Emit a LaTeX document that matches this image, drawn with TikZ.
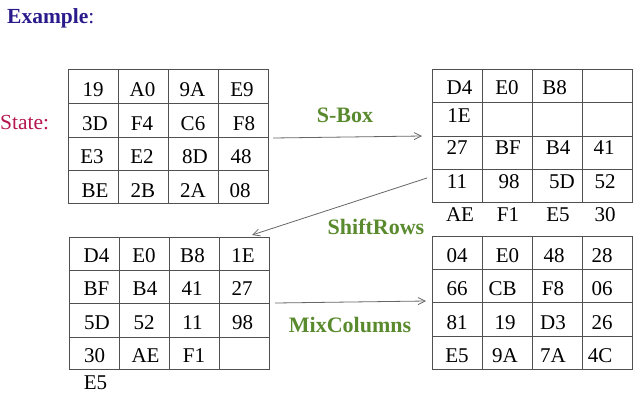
\documentclass[tikz,border=0pt]{standalone}
\usepackage{fontspec}
\setmainfont{Liberation Serif}
\usetikzlibrary{arrows.meta}
\definecolor{exblue}{HTML}{2A1A8C}
\definecolor{statered}{HTML}{B5164F}
\definecolor{opgreen}{HTML}{5A8A2E}
\definecolor{gridc}{HTML}{505050}
\definecolor{arrc}{HTML}{666666}
\begin{document}
\begin{tikzpicture}[x=1pt,y=-1pt,
  cell/.style={inner sep=0pt, font=\fontsize{21}{24}\selectfont},
  tbl/.style={draw=gridc, line width=0.9pt, inner sep=0pt, minimum width=200pt, anchor=north west},
  gridline/.style={draw=gridc, line width=0.9pt},
  conn/.style={draw=arrc, line width=0.8pt, -{Straight Barb[length=7pt,width=7pt]}},
  oplabel/.style={font=\fontsize{22}{24}\selectfont\bfseries, text=opgreen, inner sep=0pt}]
\useasboundingbox (0,0) rectangle (642,402);

% titles
\node[anchor=base west, inner sep=0pt, text=exblue, font=\fontsize{21.5}{24}\selectfont] (title) at (7,23) {\textbf{Example}:};
\node[anchor=base west, inner sep=0pt, text=statered, font=\fontsize{21.5}{24}\selectfont] (state) at (0,129) {State:};

% table frames
\node[tbl, minimum height=134pt] (t1) at (68,69) {};
\node[tbl, minimum height=133pt] (t2) at (432,69) {};
\node[tbl, minimum height=132pt] (t3) at (69,237) {};
\node[tbl, minimum height=133pt] (t4) at (432,236) {};

% grid lines
\foreach \x in {118,168,218} \draw[gridline] (\x,69) -- (\x,203);
\foreach \y in {103.5,137,170.5} \draw[gridline] (68,\y) -- (268,\y);
\foreach \x in {482,532,582} \draw[gridline] (\x,69) -- (\x,202);
\foreach \y in {102.5,136,169} \draw[gridline] (432,\y) -- (632,\y);
\foreach \x in {119,169,219} \draw[gridline] (\x,237) -- (\x,369);
\foreach \y in {270,303.5,337} \draw[gridline] (69,\y) -- (269,\y);
\foreach \x in {482,532,582} \draw[gridline] (\x,236) -- (\x,369);
\foreach \y in {269,302,336} \draw[gridline] (432,\y) -- (632,\y);

% table 1 entries
\foreach \x/\y/\t [count=\i] in {
  93/90/19, 142.5/90/A0, 192.5/90/9A, 242/90/E9,
  95/123.5/3D, 142/123.5/F4, 193/123.5/C6, 244/123.5/F8,
  92/157/E3, 142/157/E2, 195/157/8D, 241/157/48,
  95/190.5/BE, 143/190.5/2B, 193/190.5/2A, 240/190.5/08}
  \node[cell] (a\i) at (\x,\y) {\t};

% table 2 entries
\foreach \x/\y/\t [count=\i] in {
  459.5/88/D4, 507/88/E0, 554.5/88/B8,
  459/115.5/1E,
  457/148/27, 508/148/BF, 558/148/B4, 604/148/41,
  457/182/11, 509/182/98, 562/182/5D, 605/182/52,
  460/215/AE, 508/215/F1, 558/215/E5, 605/215/30}
  \node[cell] (b\i) at (\x,\y) {\t};

% table 3 entries
\foreach \x/\y/\t [count=\i] in {
  96.5/256/D4, 144/256/E0, 192.5/256/B8, 243/256/1E,
  96.5/289/BF, 145/289/B4, 192/289/41, 242/289/27,
  97/322.5/5D, 144/322.5/52, 192.5/322.5/11, 242.5/322.5/98,
  94.5/356/30, 145.5/356/AE, 194/356/F1,
  95.5/382.5/E5}
  \node[cell] (c\i) at (\x,\y) {\t};

% table 4 entries
\foreach \x/\y/\t [count=\i] in {
  457/255.5/04, 507.5/255.5/E0, 554/255.5/48, 602/255.5/28,
  457/289/66, 502.5/289/CB, 553/289/F8, 602/289/06,
  457/322.5/81, 505/322.5/19, 553/322.5/D3, 602/322.5/26,
  457/356/E5, 505/356/9A, 553/356/7A, 600/356/4C}
  \node[cell] (d\i) at (\x,\y) {\t};

% operation labels
\node[oplabel] (sbox) at (345,115) {S-Box};
\node[oplabel] (shift) at (376,227) {ShiftRows};
\node[oplabel] (mix) at (350,325) {MixColumns};

% connectors
\coordinate (sA) at (273,138);
\coordinate (sB) at (422,136);
\coordinate (rA) at (427,178);
\coordinate (rB) at (252,235);
\coordinate (mA) at (275,303);
\coordinate (mB) at (426,301);
\draw[conn] (sA) -- (sB);
\draw[conn] (rA) -- (rB);
\draw[conn] (mA) -- (mB);
\end{tikzpicture}
\end{document}
